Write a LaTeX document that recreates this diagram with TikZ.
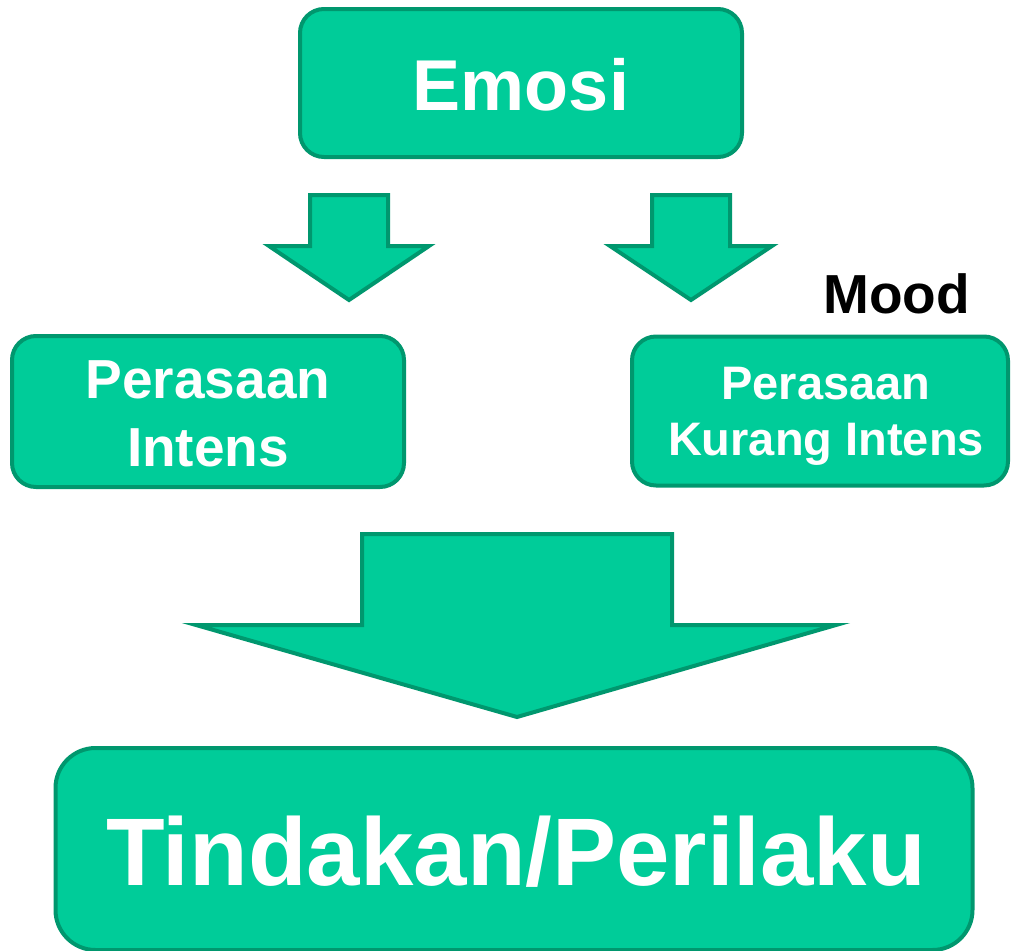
\documentclass[tikz,border=0pt]{standalone}
\usepackage{fontspec}
\setmainfont{Liberation Sans}
\usetikzlibrary{positioning}

\definecolor{boxfill}{HTML}{00CC99}
\definecolor{boxline}{HTML}{00976E}

\tikzset{
  greenbox/.style={draw=boxline, fill=boxfill, line width=4pt,
    rounded corners=24pt, inner sep=0pt},
  boxtext/.style={text=white, align=center, inner sep=0pt},
  blockarrow/.style={draw=boxline, fill=boxfill, line width=4pt, line join=miter}
}

\begin{document}
\begin{tikzpicture}[x=1pt, y=-1pt]
			\useasboundingbox (0,0) rectangle (1013,951);
			% boxes
			\node[greenbox, minimum width=442pt, minimum height=148pt] (emosi) at (521,83) {};
			\node[greenbox, minimum width=392pt, minimum height=151pt] (intens) at (208,411.5) {};
			\node[greenbox, minimum width=376pt, minimum height=149pt] (kurang) at (820,411) {};
			\node[greenbox, minimum width=917pt, minimum height=202pt, rounded corners=40pt] (tindakan) at (514,849) {};
			% texts
			\node[boxtext, font=\fontsize{72}{80}\selectfont\bfseries] (emositext)
				at ([yshift=-2pt]emosi.center) {Emosi};
			\node[boxtext, font=\fontsize{55}{68}\selectfont\bfseries] (intenstext)
				at ([yshift=-2pt]intens.center) {Perasaan\\Intens};
			\node[boxtext, font=\fontsize{47}{56}\selectfont\bfseries] (kurangtext)
				at ([xshift=6pt, yshift=-5pt]kurang.center) {Perasaan\\Kurang Intens};
			\node[boxtext, font=\fontsize{96}{100}\selectfont\bfseries] (tindakantext)
				at ([xshift=2pt, yshift=-3pt]tindakan.center) {Tindakan/Perilaku};
			\node[anchor=base west, inner sep=0pt,
				font=\fontsize{55}{60}\selectfont\bfseries] (mood) at (823,313) {Mood};
			% arrows
			\draw[blockarrow]
				(310,195) -- (388,195) -- (388,246) -- (429,246)
				-- (349,300) -- (269,246) -- (310,246) -- cycle;
			\draw[blockarrow]
				(652,195) -- (730,195) -- (730,246) -- (772,246)
				-- (691,300) -- (610,246) -- (652,246) -- cycle;
			\draw[blockarrow]
				(362,534) -- (672,534) -- (672,625) -- (836,625)
				-- (517,717) -- (196,625) -- (362,625) -- cycle;
		\end{tikzpicture}
\end{document}
